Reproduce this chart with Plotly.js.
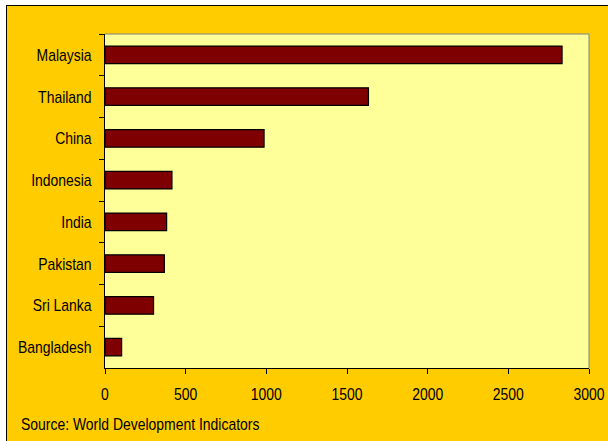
<!DOCTYPE html>
<html>
<head>
<meta charset="utf-8">
<script src="https://cdn.plot.ly/plotly-3.0.1.min.js"></script>
<style>
html,body{margin:0;padding:0;background:#ffffff;width:608px;height:441px;overflow:hidden;}
#frame{position:absolute;left:6px;top:5px;width:602px;height:436px;border-top:1px solid #000;border-left:1px solid #000;box-sizing:border-box;background:#FFCC00;}
#chart{position:absolute;left:0;top:0;width:601px;height:435px;}
</style>
</head>
<body>
<div id="frame"><div id="chart"></div></div>
<script>
var countries = ["Malaysia","Thailand","China","Indonesia","India","Pakistan","Sri Lanka","Bangladesh"];
var values = [2833, 1633, 986, 415, 382, 368, 301, 103];
var xTicks = [0, 500, 1000, 1500, 2000, 2500, 3000];
var sourceText = "Source: World Development Indicators";

var FONT = "'Liberation Sans', Arial, sans-serif";
var FS = 17;
var NARROW = 0.82;

var trace = {
  type: "bar",
  orientation: "h",
  y: countries,
  x: values,
  marker: {color: "#7F0000", line: {color: "#000000", width: 1.2}},
  hoverinfo: "x+y"
};

var layout = {
  width: 601, height: 435,
  margin: {l: 98, r: 19, t: 28, b: 73},
  paper_bgcolor: "#FFCC00",
  plot_bgcolor: "#FFFF99",
  bargap: 0.58,
  showlegend: false,
  font: {family: FONT, size: FS, color: "#000000"},
  xaxis: {
    range: [0, 3000],
    tickvals: xTicks,
    ticktext: xTicks.map(String),
    showgrid: false, zeroline: false,
    showline: true, linecolor: "#000000", linewidth: 1,
    ticks: "outside", ticklen: 5, tickcolor: "#000000", tickwidth: 1,
    tickfont: {family: FONT, size: FS, color: "#000000"},
    automargin: false,
    fixedrange: true
  },
  yaxis: {
    autorange: "reversed",
    type: "category",
    categoryorder: "array",
    categoryarray: countries,
    showgrid: false, zeroline: false,
    showline: true, linecolor: "#000000", linewidth: 1,
    ticks: "outside", ticklen: 5, tickcolor: "#000000", tickwidth: 1,
    tickson: "boundaries",
    ticklabelstandoff: 9,
    tickfont: {family: FONT, size: FS, color: "#000000"},
    automargin: false,
    fixedrange: true
  },
  shapes: [
    {type: "line", xref: "paper", yref: "paper", x0: 0, x1: 1, y0: 1, y1: 1, line: {color: "#808080", width: 1}},
    {type: "line", xref: "paper", yref: "paper", x0: 1, x1: 1, y0: 0, y1: 1, line: {color: "#808080", width: 1}}
  ],
  annotations: [
    {text: sourceText, xref: "paper", yref: "paper", x: -0.178, y: -0.17, xanchor: "left", yanchor: "middle",
     showarrow: false, font: {family: FONT, size: FS, color: "#000000"}}
  ]
};

function narrow(sel, keepLeft, shiftY) {
  var els = document.querySelectorAll(sel);
  els.forEach(function (t) {
    var before = t.getBBox();
    var len = t.getComputedTextLength();
    t.setAttribute("textLength", (len * NARROW).toFixed(2));
    t.setAttribute("lengthAdjust", "spacingAndGlyphs");
    if (keepLeft) {
      var after = t.getBBox();
      var dx = before.x - after.x;
      var x0 = parseFloat(t.getAttribute("x") || "0");
      t.setAttribute("x", (x0 + dx).toFixed(2));
    }
    if (shiftY) {
      var y0 = parseFloat(t.getAttribute("y") || "0");
      t.setAttribute("y", (y0 + shiftY).toFixed(2));
    }
  });
}

Plotly.newPlot("chart", [trace], layout, {displayModeBar: false, staticPlot: true}).then(function () {
  narrow("#chart g.xtick text", false, 6);
  narrow("#chart g.ytick text", false, 0);
  narrow("#chart g.annotation text", true, 0);
});
</script>
</body>
</html>
